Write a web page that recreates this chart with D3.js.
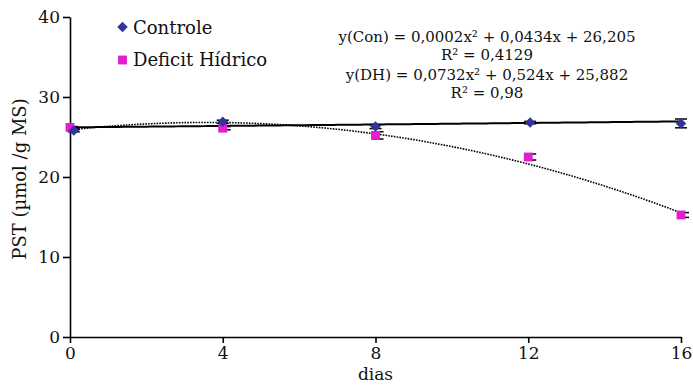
<!DOCTYPE html>
<html><head><meta charset="utf-8">
<script src="https://cdn.jsdelivr.net/npm/d3@7"></script>
<style>body{margin:0;background:#fff}svg{display:block}text{font-family:"DejaVu Serif",serif;fill:#111}</style>
</head><body><svg id="c" width="693" height="385"></svg>
<script>
const days = [0, 4, 8, 12, 16];
const conDays = [0.1, 4, 8, 12.05, 16];
const conValues = [25.8, 26.9, 26.3, 26.8, 26.7];
const conErrors = [0.15, 0.2, 0.25, 0.15, 0.55];
const dhValues = [26.2, 26.1, 25.2, 22.5, 15.25];
const dhErrors = [0.1, 0.2, 0.45, 0.38, 0.3];
const conCoef = [0.0002, 0.0434, 26.205];
const dhCoef = [-0.0732, 0.524, 25.882];
const xTicks = [0, 4, 8, 12, 16];
const yTicks = [0, 10, 20, 30, 40];
const seriesNames = ["Controle", "Deficit Hídrico"];
const eqLines = ["y(Con) = 0,0002x² + 0,0434x + 26,205", "R² = 0,4129", "y(DH) = 0,0732x² + 0,524x + 25,882", "R² = 0,98"];
const colors = {con: "#333399", dh: "#E41DD0"};

const svg = d3.select("#c");
const x = d3.scaleLinear().domain([0, 16]).range([70, 681]);
const y = d3.scaleLinear().domain([0, 40]).range([337, 17]);

// axes
const xAxis = d3.axisBottom(x).tickValues(xTicks).tickSize(6).tickSizeOuter(0).tickPadding(4);
const gx = svg.append("g").attr("transform", `translate(0,${y(0)})`).call(xAxis);
const yAxis = d3.axisLeft(y).tickValues(yTicks).tickSize(7).tickSizeOuter(0).tickPadding(3);
const gy = svg.append("g").attr("transform", `translate(${x(0)},0)`).call(yAxis);
[gx, gy].forEach(g => {
  g.select(".domain").attr("stroke", "#000").attr("stroke-width", 1.6);
  g.selectAll(".tick line").attr("stroke", "#000").attr("stroke-width", 1.6);
  g.selectAll(".tick text").style("font-family", '"DejaVu Serif",serif').style("font-size", "17px").attr("fill", "#111");
});

// trendlines
const samp = d3.range(0, 16.001, 0.1);
const poly = c => t => c[0] * t * t + c[1] * t + c[2];
const line = f => d3.line().x(t => x(t)).y(t => y(f(t)));
svg.append("path").attr("d", line(poly(dhCoef))(samp)).attr("fill", "none")
  .attr("stroke", "#000").attr("stroke-width", 1.6).attr("stroke-dasharray", "1.6,1.2");
svg.append("path").attr("d", line(poly(conCoef))(samp)).attr("fill", "none")
  .attr("stroke", "#000").attr("stroke-width", 2);

// error bars
function errbars(xs, vals, errs, shift) {
  const g = svg.append("g").attr("stroke", "#000").attr("stroke-width", 1.5);
  xs.forEach((d, i) => {
    const cx = x(d) + shift, y1 = y(vals[i] + errs[i]), y2 = y(vals[i] - errs[i]);
    g.append("line").attr("x1", cx).attr("x2", cx).attr("y1", y1).attr("y2", y2);
    g.append("line").attr("x1", cx - 6).attr("x2", cx + 6).attr("y1", y1).attr("y2", y1);
    g.append("line").attr("x1", cx - 6).attr("x2", cx + 6).attr("y1", y2).attr("y2", y2);
  });
}
errbars(conDays, conValues, conErrors, 0);
errbars(days, dhValues, dhErrors, 2);

// markers
const diamond = d3.symbol().type(d3.symbolDiamond2).size(70);
const square = d3.symbol().type(d3.symbolSquare2).size(100);
svg.append("g").selectAll("path").data(days).join("path")
  .attr("d", square).attr("fill", colors.dh)
  .attr("transform", (d, i) => `translate(${x(d)},${y(dhValues[i])})`);
svg.append("g").selectAll("path").data(conDays).join("path")
  .attr("d", diamond).attr("fill", colors.con)
  .attr("transform", (d, i) => `translate(${x(d)},${y(conValues[i])})`);

// legend
const lg = svg.append("g");
lg.append("path").attr("d", diamond).attr("fill", colors.con).attr("transform", "translate(122.5,27)");
lg.append("text").attr("x", 133).attr("y", 34).style("font-size", "18px").text(seriesNames[0]);
lg.append("path").attr("d", square).attr("fill", colors.dh).attr("transform", "translate(122.5,60)");
lg.append("text").attr("x", 133).attr("y", 66).style("font-size", "18px").text(seriesNames[1]);

// equations
svg.append("g").selectAll("text").data(eqLines).join("text")
  .attr("x", 487).attr("y", (d, i) => [42, 60, 80, 98][i]).attr("text-anchor", "middle")
  .style("font-size", "15px").text(d => d);

// axis titles
svg.append("text").attr("transform", `translate(26,${(y(0) + y(40)) / 2 + 2}) rotate(-90)`)
  .attr("text-anchor", "middle").style("font-size", "18px").text("PST (µmol /g MS)");
svg.append("text").attr("x", x(8)).attr("y", 380).attr("text-anchor", "middle")
  .style("font-size", "17px").text("dias");
</script></body></html>
